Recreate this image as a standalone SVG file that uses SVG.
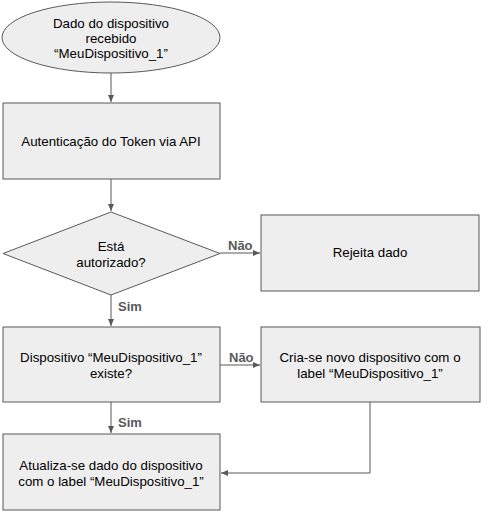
<svg xmlns="http://www.w3.org/2000/svg" width="487" height="517" viewBox="0 0 487 517">
<style>
.n{fill:#eeeeee;stroke:#595959;stroke-width:1}
.t{font-family:"Liberation Sans",Arial,sans-serif;font-size:13.3px;fill:#000;text-anchor:middle}
.l{font-family:"Liberation Sans",Arial,sans-serif;font-size:13px;font-weight:bold;fill:#595959}
.c{fill:none;stroke:#595959;stroke-width:1}
</style>
<defs>
<marker id="a" markerWidth="8" markerHeight="8" refX="7" refY="4" orient="auto" markerUnits="userSpaceOnUse">
<path d="M0,1 L7,4 L0,7 Z" fill="#595959"/>
</marker>
</defs>
<rect width="487" height="517" fill="#fff"/>
<g id="connectors">
<line class="c" x1="111" y1="73" x2="111" y2="102" marker-end="url(#a)"/>
<line class="c" x1="111" y1="179" x2="111" y2="211" marker-end="url(#a)"/>
<line class="c" x1="220" y1="253" x2="260" y2="253" marker-end="url(#a)"/>
<line class="c" x1="111" y1="295" x2="111" y2="326" marker-end="url(#a)"/>
<line class="c" x1="220" y1="365" x2="260" y2="365" marker-end="url(#a)"/>
<line class="c" x1="111" y1="402" x2="111" y2="433" marker-end="url(#a)"/>
<polyline class="c" points="370,402 370,473 221,473" marker-end="url(#a)"/>
<text class="l" x="228" y="250">Não</text>
<text class="l" x="118" y="311">Sim</text>
<text class="l" x="229" y="362">Não</text>
<text class="l" x="118" y="427">Sim</text>
</g>
<g id="start">
<ellipse class="n" cx="111" cy="37.5" rx="109" ry="35.5"/>
<text class="t" x="111" y="28">Dado do dispositivo</text>
<text class="t" x="111" y="43">recebido</text>
<text class="t" x="111" y="58">“MeuDispositivo_1”</text>
</g>
<g id="auth">
<rect class="n" x="3" y="103" width="217" height="76"/>
<text class="t" x="111" y="146">Autenticação do Token via API</text>
</g>
<g id="authorized">
<polygon class="n" points="111,212 220,253.5 111,295 3,253.5"/>
<text class="t" x="111" y="251">Está</text>
<text class="t" x="111" y="267">autorizado?</text>
</g>
<g id="reject">
<rect class="n" x="261" y="215" width="218" height="76"/>
<text class="t" x="370" y="257">Rejeita dado</text>
</g>
<g id="exists">
<rect class="n" x="3" y="327" width="217" height="75"/>
<text class="t" x="111" y="362">Dispositivo “MeuDispositivo_1”</text>
<text class="t" x="111" y="378">existe?</text>
</g>
<g id="create">
<rect class="n" x="261" y="327" width="219" height="75"/>
<text class="t" x="370" y="362">Cria-se novo dispositivo com o</text>
<text class="t" x="370" y="378">label “MeuDispositivo_1”</text>
</g>
<g id="update">
<rect class="n" x="3" y="434" width="217" height="76"/>
<text class="t" x="111" y="470">Atualiza-se dado do dispositivo</text>
<text class="t" x="111" y="486">com o label “MeuDispositivo_1”</text>
</g>
</svg>
